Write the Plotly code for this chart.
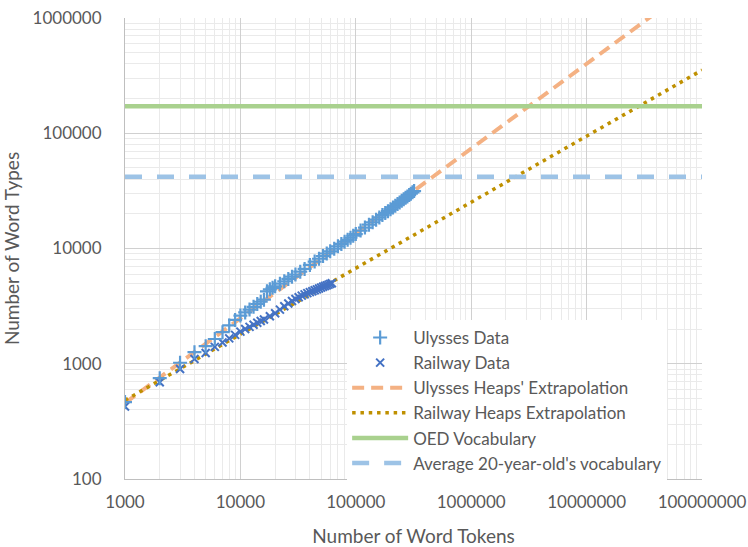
import plotly.graph_objects as go

# ---- data ----
ulysses_tokens = [1000, 2000, 3000, 4000, 5000, 6000, 7000, 8000, 9000, 10000,
                  11000, 12000, 13000, 14000, 15000, 16000, 17000, 18000, 19000, 20000,
                  22000, 24000, 26000, 28000, 30000, 33000, 36000, 40000, 44000, 48000,
                  52000, 56000, 60000, 65000, 70000, 75000, 80000, 85000, 90000, 95000,
                  100000, 110000, 120000, 130000, 140000, 150000, 160000, 170000, 180000,
                  190000, 200000, 210000, 220000, 230000, 240000, 250000, 260000, 270000,
                  280000, 290000, 300000, 310000, 320000]
ulysses_types = [465, 750, 1020, 1260, 1420, 1640, 1880, 2150, 2400, 2620,
                 2790, 2950, 3120, 3300, 3450, 3600, 4250, 4420, 4560, 4700,
                 4950, 5200, 5450, 5700, 5950, 6300, 6650, 7200, 7700, 8150,
                 8600, 9050, 9450, 9950, 10450, 10950, 11450, 11900, 12400, 12900,
                 13350, 14300, 15200, 16100, 16900, 17800, 18600, 19500, 20300,
                 21100, 21900, 22700, 23500, 24300, 25100, 25900, 26700, 27500,
                 28300, 29100, 29900, 30700, 31500]

railway_tokens = [1000, 2000, 3000, 4000, 5000, 6000, 7000, 8000, 9000, 10000,
                  11000, 12000, 13000, 14000, 15000, 16000, 18000, 20000, 22000, 24000,
                  26000, 28000, 30000, 32000, 34000, 36000, 38000, 40000, 42000, 44000,
                  46000, 48000, 50000, 52000, 54000, 56000, 58000, 60000, 62000]
railway_types = [425, 690, 900, 1100, 1240, 1400, 1530, 1660, 1780, 1900,
                 2000, 2090, 2180, 2270, 2350, 2420, 2580, 2740, 2950, 3150,
                 3330, 3500, 3650, 3780, 3900, 4000, 4100, 4180, 4260, 4340,
                 4420, 4500, 4580, 4650, 4720, 4790, 4860, 4930, 4990]

# Heaps' law extrapolations (end points)
ulysses_heaps_x = [1000, 100000000]
ulysses_heaps_y = [456, 2180000]
railway_heaps_x = [1000, 100000000]
railway_heaps_y = [482, 353000]

# horizontal reference levels
span_x = [1000, 100000000]
oed_vocab = 171476
avg20_vocab = 42000

x_tickvals = [1000, 10000, 100000, 1000000, 10000000, 100000000]
x_ticktext = ["1000", "10000", "100000", "1000000", "10000000", "100000000"]
y_tickvals = [100, 1000, 10000, 100000, 1000000]
y_ticktext = ["100", "1000", "10000", "100000", "1000000"]

FONT = "Lato"
GREY = "#595959"

fig = go.Figure()

fig.add_trace(go.Scatter(x=ulysses_heaps_x, y=ulysses_heaps_y, mode="lines",
                         name="Ulysses Heaps' Extrapolation", legendrank=3,
                         line=dict(color="#F4B183", width=4, dash="12px,7px")))
fig.add_trace(go.Scatter(x=railway_heaps_x, y=railway_heaps_y, mode="lines",
                         name="Railway Heaps Extrapolation", legendrank=4,
                         line=dict(color="#BF9000", width=3.5, dash="3.5px,4.8px")))
fig.add_trace(go.Scatter(x=span_x, y=[oed_vocab] * len(span_x), mode="lines",
                         name="OED Vocabulary", legendrank=5,
                         line=dict(color="#A9D18E", width=4.5)))
fig.add_trace(go.Scatter(x=span_x, y=[avg20_vocab] * len(span_x), mode="lines",
                         name="Average 20-year-old's vocabulary", legendrank=6,
                         line=dict(color="#9DC3E6", width=4.5, dash="17px,15px")))
fig.add_trace(go.Scatter(x=railway_tokens, y=railway_types, mode="markers",
                         name="Railway Data", legendrank=2,
                         marker=dict(symbol="x-thin", size=8, color="#4472C4",
                                     line=dict(color="#4472C4", width=2))))
fig.add_trace(go.Scatter(x=ulysses_tokens, y=ulysses_types, mode="markers",
                         name="Ulysses Data", legendrank=1,
                         marker=dict(symbol="cross-thin", size=10, color="#5B9BD5",
                                     line=dict(color="#5B9BD5", width=2.2))))

axis_common = dict(type="log", showline=True, linecolor="#BFBFBF", linewidth=1,
                   gridcolor="#D0D0D0", gridwidth=1, ticks="", zeroline=False,
                   automargin=False,
                   tickfont=dict(family=FONT, size=17, color=GREY),
                   minor=dict(showgrid=True, gridcolor="#EAEAEA", gridwidth=1, dtick="D1"))

fig.update_xaxes(range=[3, 8], tickvals=x_tickvals, ticktext=x_ticktext,
                 ticklabelstandoff=8,
                 title=dict(text="Number of Word Tokens", font=dict(family=FONT, size=19, color=GREY),
                            standoff=22),
                 **axis_common)
fig.update_yaxes(range=[2, 6], tickvals=y_tickvals, ticktext=y_ticktext,
                 ticklabelstandoff=19,
                 title=dict(text="Number of Word Types", font=dict(family=FONT, size=19, color=GREY),
                            standoff=12),
                 **axis_common)

fig.update_layout(
    width=748, height=547,
    margin=dict(l=125, r=46, t=18, b=68),
    paper_bgcolor="white", plot_bgcolor="white",
    showlegend=True,
    legend=dict(x=0.385, y=0.345, xanchor="left", yanchor="top",
                bgcolor="white", borderwidth=0, itemwidth=56,
                font=dict(family=FONT, size=17, color=GREY),
                tracegroupgap=0),
)

fig.write_html("out.html")
